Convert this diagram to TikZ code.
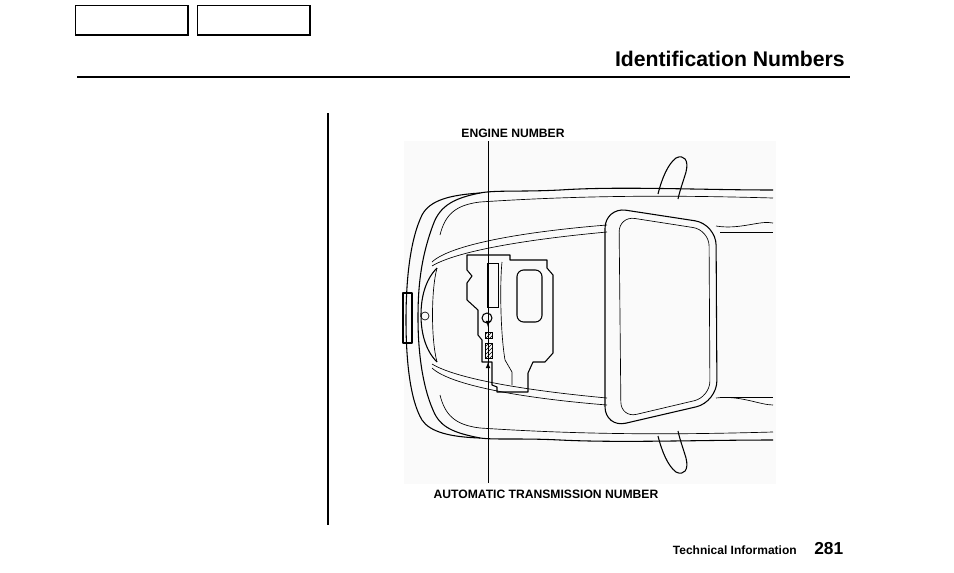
\documentclass[tikz,border=0pt]{standalone}
\usepackage{fontspec}
\setmainfont{Liberation Sans}
\usetikzlibrary{patterns}
\begin{document}
\begin{tikzpicture}[x=0.75pt,y=-0.75pt,
  car/.style={line width=0.8pt,line join=round},
  thin/.style={line width=0.5pt},
  lbl/.style={font=\bfseries\fontsize{9.1}{10}\selectfont,inner sep=0pt},
  tab/.style={draw,line width=0.6pt,minimum width=84pt,minimum height=22pt,inner sep=0pt}]
\useasboundingbox (0,0) rectangle (954,572);
% header tabs
\node[tab,anchor=north west] (t1) at (75,5) {};
\node[tab,anchor=north west] (t2) at (197,5) {};
\draw[line width=1.5pt] (t1.north east)--(t1.south east)--(t1.south west);
\draw[line width=1.5pt] (t2.north east)--(t2.south east)--(t2.south west);
\node[anchor=base east,inner sep=0pt,font=\bfseries\fontsize{15.9}{18}\selectfont] (title) at (845,66) {Identification Numbers};
\draw[line width=1.6pt] (77,77)--(850,77);
\draw[line width=1pt] (328,113)--(328,525);
% background
\fill[black!2] (404,141) rectangle (776,484);
% car body
\draw[car] (773,190) .. controls (700,190) and (620,186) .. (560,190) .. controls (520,192) and (495,190) .. (480,193)
  .. controls (450,195) and (430,200) .. (422,215) .. controls (410,240) and (406,280) .. (406,320)
  .. controls (406,360) and (410,400) .. (422,420) .. controls (430,432) and (450,437) .. (480,438)
  .. controls (495,440) and (520,438) .. (560,440) .. controls (620,443) and (700,440) .. (773,440);
\draw[car] (480,193) .. controls (455,198) and (440,205) .. (433,225) .. controls (420,260) and (418,290) .. (418,318)
  .. controls (418,350) and (422,385) .. (433,410) .. controls (440,428) and (455,433) .. (480,438);
\draw[thin] (773,198) .. controls (700,196) and (600,194) .. (480,202) .. controls (455,205) and (445,215) .. (440,235);
\draw[thin] (773,432) .. controls (700,434) and (600,436) .. (480,428) .. controls (455,425) and (445,415) .. (440,395);
% hood lines
\draw[thin] (432,262) .. controls (450,245) and (520,232) .. (607,225);
\draw[thin] (432,266) .. controls (455,252) and (520,240) .. (607,232);
\draw[thin] (432,368) .. controls (450,385) and (520,398) .. (607,405);
\draw[thin] (432,364) .. controls (455,378) and (520,390) .. (607,398);
% grille
\draw[car] (437,268) .. controls (425,280) and (421,298) .. (421,315) .. controls (421,332) and (425,350) .. (437,362);
\draw[thin] (437,268) .. controls (431,290) and (431,340) .. (437,362);
\draw[car] (403,293) rectangle (412,343);
\draw[thin] (425,316) circle (4);
% windshield
\draw[car,rounded corners=16pt] (605,207) -- (716,224) -- (717,402) -- (605,428) -- cycle;
\draw[thin,rounded corners=12pt] (619,216) -- (709,230) -- (710,397) -- (621,418) -- cycle;
\draw[thin] (716,226) .. controls (740,230) and (760,220) .. (773,223);
\draw[thin] (716,398) .. controls (740,395) and (760,405) .. (773,405);
\draw[thin] (720,232) -- (773,232);
\draw[thin] (720,397) -- (773,397);
% mirrors
\draw[car] (658,194) .. controls (662,178) and (668,164) .. (676,158) .. controls (684,154) and (689,160) .. (686,172) .. controls (683,182) and (680,190) .. (678,199);
\draw[car] (658,436) .. controls (662,452) and (668,466) .. (676,472) .. controls (684,476) and (689,470) .. (686,458) .. controls (683,448) and (680,440) .. (678,431);
% engine
\draw[car] (467,255) -- (510,255) -- (510,260) -- (547,260) -- (547,268) -- (553,275) -- (553,353) -- (545,362) -- (533,362)
  -- (528,373) -- (528,392) -- (497,392) -- (497,387) -- (492,385) -- (492,362) -- (482,362) -- (482,340) -- (478,335) -- (478,310)
  -- (467,300) -- (467,283) -- (472,276) -- (467,270) -- cycle;
\draw[car,rounded corners=5pt] (517,270) rectangle (542,322);
\draw[thin] (487,263) rectangle (498,307);
\draw[thin] (502,262) .. controls (500,280) and (500,330) .. (505,360) -- (512,372) -- (512,385);
\draw[car] (487,318) circle (5);
\fill[pattern=north east lines] (485,332) rectangle (492,338);
\draw[thin] (485,332) rectangle (492,338);
\fill[pattern=north east lines] (485,343) rectangle (492,358);
\draw[thin] (485,343) rectangle (492,358);
% labels and leader
\node[lbl] (eng) at (513,133) {ENGINE NUMBER};
\node[lbl] (atn) at (546,494) {AUTOMATIC TRANSMISSION NUMBER};
\coordinate (top) at (488,141);
\coordinate (bot) at (488,483);
\draw[line width=0.6pt] (top) -- (bot);
\draw[-latex,line width=0.6pt] (488,318) -- (488,327);
\draw[-latex,line width=0.6pt] (488,372) -- (488,362);
% footer
\node[anchor=base east,inner sep=0pt,font=\bfseries\fontsize{9}{10}\selectfont] (ti) at (797,554) {Technical Information};
\node[anchor=base west,inner sep=0pt,font=\bfseries\fontsize{13}{15}\selectfont] (pg) at (814,554) {281};
\end{tikzpicture}
\end{document}
